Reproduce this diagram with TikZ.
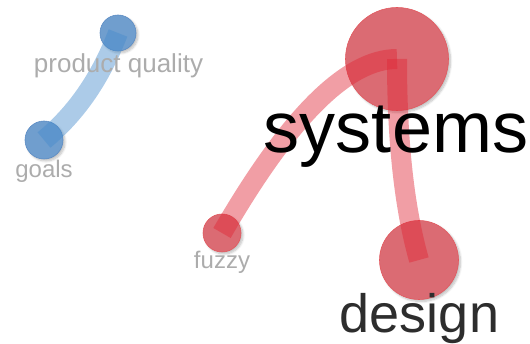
\documentclass[tikz,border=0pt]{standalone}
\usepackage{fontspec}
\setmainfont{Liberation Sans}
\usetikzlibrary{shadows.blur}

\definecolor{bluenode}{RGB}{112,158,206}
\definecolor{blueline}{RGB}{92,140,196}
\definecolor{blueedge}{RGB}{70,140,205}
\definecolor{rednode}{RGB}{219,107,115}
\definecolor{redline}{RGB}{226,88,94}
\definecolor{rededge}{RGB}{225,40,55}
\definecolor{labelgray}{RGB}{172,172,172}
\definecolor{darkword}{RGB}{45,45,45}

\newcommand{\fsz}[1]{\fontsize{#1}{#1}\selectfont}

\tikzset{
  bubble/.style={draw, circle, inner sep=0pt, line width=0.6pt,
    blur shadow={shadow xshift=2pt, shadow yshift=-2pt, shadow opacity=25, shadow blur steps=8}},
  link/.style={line width=20pt, draw opacity=0.45},
  word/.style={anchor=base, inner sep=0pt, text=labelgray},
}

\begin{document}
\begin{tikzpicture}[x=1pt, y=-1pt]
\useasboundingbox (0,0) rectangle (530,344);

% clusters
\node[bubble, minimum width=38, draw=blueline, fill=bluenode] (goals) at (44,140) {};
\node[bubble, minimum width=36, draw=blueline, fill=bluenode] (quality) at (118,33) {};
\node[bubble, minimum width=38, draw=redline, fill=rednode] (fuzzy) at (222,233) {};
\node[bubble, minimum width=103, draw=redline, fill=rednode] (systems) at (397,59) {};
\node[bubble, minimum width=79, draw=redline, fill=rednode] (design) at (419,260) {};

% links
\draw[link, color=blueedge] (goals.center) .. controls +(33,-27) and +(-17,44) .. (quality.center);
\draw[link, color=rededge] (fuzzy.center) .. controls +(67,-116) and +(-50,0) .. (systems.center);
\draw[link, color=rededge] (systems.center) .. controls +(0,81) and +(-15,-53) .. (design.center);

% terms
\node[word, font=\fsz{26}] (qualityl) at (118.5,73) {product quality};
\node[word, font=\fsz{24}] (goalsl) at (44,178) {goals};
\node[word, font=\fsz{24}] (fuzzyl) at (222,269) {fuzzy};
\node[word, font=\fsz{72}, text=black] (systemsl) at (396,153) {systems};
\node[word, font=\fsz{54}, text=darkword] (designl) at (419.5,333) {design};
\end{tikzpicture}
\end{document}
